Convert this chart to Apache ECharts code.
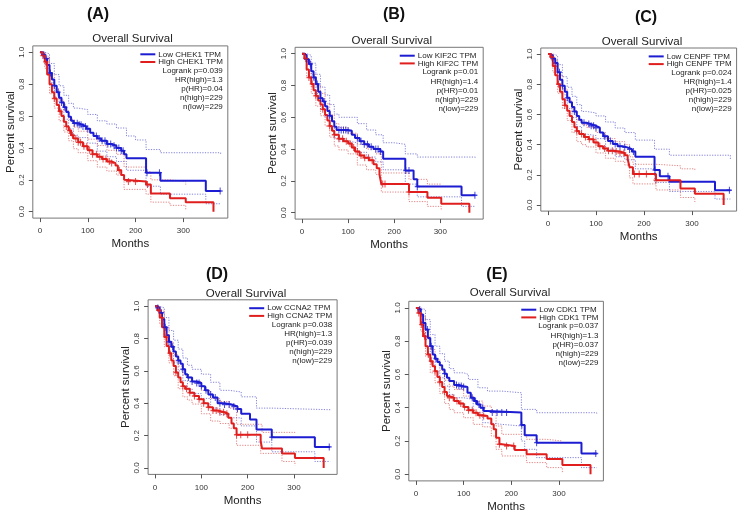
<!DOCTYPE html>
<html>
<head>
<meta charset="utf-8">
<script src="https://cdn.jsdelivr.net/npm/echarts@6/dist/echarts.min.js"></script>
<style>
  html, body { margin: 0; padding: 0; background: #fff; }
  #chart { width: 740px; height: 517px; }
</style>
</head>
<body>
<div id="chart"></div>
<script>
// values: [months, survival]
const genes = ["CHEK1", "KIF2C", "CENPF", "CCNA2", "CDK1"];
const panelTags = ["(A)", "(B)", "(C)", "(D)", "(E)"];
const logrankP = ["0.039", "0.01", "0.024", "0.038", "0.037"];
const hrHigh = ["1.3", "1.4", "1.4", "1.3", "1.3"];
const pHR = ["0.04", "0.01", "0.025", "0.039", "0.037"];
const nHigh = [229, 229, 229, 229, 229];
const nLow = [229, 229, 229, 229, 229];
const xTicks = [0, 100, 200, 300];
const yTicks = [0, 0.2, 0.4, 0.6, 0.8, 1.0];

// (A) CHEK1
const lowA = [[0,1],[5,0.985],[10,0.96],[15,0.92],[20,0.87],[25,0.83],[30,0.79],[35,0.75],[40,0.715],[45,0.685],[50,0.655],[55,0.625],[60,0.595],[65,0.57],[70,0.555],[80,0.545],[90,0.535],[97,0.52],[105,0.495],[112,0.475],[120,0.46],[128,0.445],[140,0.425],[150,0.414],[160,0.4],[170,0.383],[176,0.36],[181,0.335],[222,0.245],[252,0.195],[347,0.13],[378,0.13]];
const highA = [[0,1],[5,0.98],[10,0.94],[15,0.86],[20,0.8],[25,0.75],[30,0.71],[35,0.67],[40,0.63],[45,0.6],[50,0.565],[55,0.535],[60,0.51],[65,0.48],[70,0.46],[80,0.435],[90,0.41],[100,0.385],[110,0.36],[120,0.345],[130,0.33],[140,0.315],[150,0.305],[158,0.29],[163,0.26],[170,0.23],[176,0.2],[180,0.19],[222,0.17],[232,0.115],[272,0.085],[305,0.06],[363,0]];
const lowAUp = [[0,1],[10,0.99],[20,0.93],[30,0.86],[40,0.79],[50,0.73],[60,0.68],[70,0.65],[80,0.64],[100,0.61],[120,0.57],[140,0.55],[160,0.525],[181,0.475],[200,0.45],[222,0.39],[252,0.37],[378,0.36]];
const lowALo = [[0,1],[10,0.92],[20,0.81],[30,0.72],[40,0.64],[50,0.58],[60,0.52],[70,0.48],[80,0.465],[100,0.43],[120,0.38],[140,0.345],[160,0.315],[181,0.26],[222,0.16],[252,0.11],[347,0.05],[378,0.05]];
const highAUp = [[0,1],[10,0.97],[20,0.86],[30,0.77],[40,0.7],[50,0.635],[60,0.58],[70,0.53],[80,0.505],[100,0.455],[120,0.415],[140,0.385],[160,0.36],[176,0.28],[222,0.25],[232,0.2],[272,0.19],[305,0.17]];
const highALo = [[0,1],[10,0.9],[20,0.74],[30,0.65],[40,0.57],[50,0.5],[60,0.445],[70,0.395],[80,0.37],[100,0.32],[120,0.28],[140,0.255],[160,0.23],[176,0.14],[222,0.11],[232,0.06],[272,0.04],[305,0.015]];
const censLowA = [8, 14, 22, 30, 38, 45, 52, 72, 78, 82, 86, 90, 95, 100, 118, 124, 130, 136, 142, 148, 155, 160, 165, 170, 174, 224, 250, 377];
const censHighA = [6, 12, 30, 42, 55, 62, 68, 75, 80, 85, 92, 98, 104, 110, 118, 125, 132, 138, 145, 150, 166, 185, 200, 225];

// (B) KIF2C
const lowB = [[0,1],[5,0.99],[10,0.965],[15,0.935],[20,0.89],[25,0.85],[30,0.81],[35,0.76],[40,0.72],[45,0.7],[50,0.67],[55,0.64],[60,0.61],[65,0.575],[70,0.54],[75,0.52],[100,0.515],[108,0.49],[115,0.47],[125,0.45],[135,0.43],[145,0.415],[155,0.4],[170,0.385],[176,0.34],[224,0.265],[242,0.21],[250,0.165],[346,0.11],[376,0.11]];
const highB = [[0,1],[5,0.97],[10,0.9],[15,0.85],[20,0.81],[25,0.77],[30,0.735],[35,0.705],[40,0.68],[45,0.65],[50,0.615],[55,0.58],[60,0.545],[65,0.515],[70,0.49],[80,0.465],[90,0.45],[100,0.435],[108,0.41],[115,0.385],[125,0.36],[135,0.345],[145,0.33],[155,0.305],[162,0.28],[168,0.24],[172,0.18],[232,0.13],[272,0.094],[302,0.057],[363,0]];
const lowBUp = [[0,1],[10,0.99],[20,0.94],[30,0.87],[40,0.79],[50,0.74],[60,0.68],[70,0.62],[80,0.6],[100,0.6],[120,0.56],[140,0.52],[160,0.49],[176,0.44],[200,0.43],[224,0.37],[250,0.35],[376,0.34]];
const lowBLo = [[0,1],[10,0.93],[20,0.84],[30,0.75],[40,0.65],[50,0.6],[60,0.54],[70,0.47],[80,0.45],[100,0.44],[120,0.38],[140,0.35],[160,0.32],[176,0.27],[224,0.18],[250,0.1],[346,0.04],[376,0.04]];
const highBUp = [[0,1],[10,0.95],[20,0.87],[30,0.8],[40,0.75],[50,0.685],[60,0.615],[70,0.56],[80,0.535],[100,0.5],[120,0.43],[140,0.4],[160,0.37],[172,0.25],[232,0.21],[272,0.18],[302,0.18]];
const highBLo = [[0,1],[10,0.86],[20,0.75],[30,0.67],[40,0.61],[50,0.545],[60,0.475],[70,0.42],[80,0.395],[100,0.37],[120,0.3],[140,0.27],[160,0.24],[172,0.13],[232,0.07],[272,0.04],[302,0.02]];
const censLowB = [10, 18, 26, 33, 40, 48, 60, 80, 85, 90, 95, 100, 120, 128, 135, 142, 150, 160, 165, 170, 225, 232, 250, 375];
const censHighB = [8, 15, 22, 30, 45, 60, 70, 80, 88, 96, 104, 112, 120, 128, 136, 144, 152, 175, 180, 232];

// (C) CENPF
const lowC = [[0,1],[5,0.99],[10,0.97],[15,0.94],[20,0.88],[25,0.83],[30,0.79],[35,0.75],[40,0.71],[45,0.68],[50,0.65],[55,0.62],[60,0.59],[65,0.565],[70,0.545],[80,0.536],[90,0.525],[100,0.512],[108,0.48],[115,0.455],[125,0.425],[135,0.405],[145,0.39],[155,0.382],[165,0.37],[175,0.355],[182,0.32],[222,0.232],[233,0.19],[253,0.155],[348,0.098],[380,0.098]];
const highC = [[0,1],[5,0.98],[10,0.92],[15,0.86],[20,0.8],[25,0.75],[30,0.7],[35,0.66],[40,0.625],[45,0.59],[50,0.55],[55,0.515],[60,0.49],[65,0.47],[75,0.45],[85,0.435],[95,0.415],[105,0.39],[115,0.375],[125,0.36],[135,0.355],[150,0.345],[160,0.33],[166,0.305],[170,0.25],[177,0.205],[225,0.165],[276,0.11],[306,0.075],[366,0]];
const lowCUp = [[0,1],[10,0.99],[20,0.93],[30,0.85],[40,0.78],[50,0.72],[60,0.665],[70,0.62],[80,0.61],[100,0.59],[120,0.55],[140,0.51],[160,0.48],[182,0.43],[222,0.37],[253,0.33],[380,0.3]];
const lowCLo = [[0,1],[10,0.94],[20,0.83],[30,0.73],[40,0.64],[50,0.58],[60,0.52],[70,0.47],[80,0.46],[100,0.44],[120,0.37],[140,0.32],[160,0.3],[182,0.24],[222,0.15],[253,0.09],[348,0.04],[380,0.04]];
const highCUp = [[0,1],[10,0.96],[20,0.86],[30,0.77],[40,0.69],[50,0.62],[60,0.56],[70,0.535],[80,0.515],[100,0.48],[120,0.44],[140,0.42],[160,0.4],[170,0.32],[177,0.27],[225,0.26],[276,0.24],[306,0.23]];
const highCLo = [[0,1],[10,0.88],[20,0.74],[30,0.64],[40,0.56],[50,0.48],[60,0.42],[70,0.4],[80,0.385],[100,0.345],[120,0.31],[140,0.29],[160,0.265],[170,0.18],[177,0.14],[225,0.1],[276,0.05],[306,0.02]];
const censLowC = [10, 16, 24, 30, 40, 55, 75, 85, 90, 95, 100, 118, 130, 140, 150, 160, 170, 178, 223, 250, 378];
const censHighC = [8, 14, 22, 35, 60, 70, 78, 86, 94, 100, 108, 118, 126, 134, 142, 150, 158, 180, 190, 205, 225];

// (D) CCNA2
const lowD = [[0,1],[5,0.99],[10,0.96],[15,0.92],[20,0.87],[25,0.82],[30,0.78],[35,0.75],[40,0.72],[45,0.69],[50,0.665],[55,0.645],[60,0.61],[65,0.58],[70,0.56],[80,0.535],[90,0.525],[100,0.505],[108,0.48],[115,0.455],[125,0.435],[135,0.4],[150,0.392],[165,0.38],[178,0.365],[186,0.335],[205,0.3],[219,0.237],[252,0.19],[345,0.13],[378,0.13]];
const highD = [[0,1],[5,0.975],[10,0.93],[15,0.87],[20,0.81],[25,0.755],[30,0.71],[35,0.665],[40,0.63],[45,0.59],[50,0.56],[55,0.53],[60,0.505],[65,0.49],[75,0.465],[85,0.445],[95,0.425],[105,0.4],[115,0.375],[125,0.355],[135,0.345],[150,0.335],[158,0.31],[165,0.275],[170,0.245],[176,0.205],[228,0.165],[231,0.12],[274,0.089],[302,0.062],[364,0]];
const lowDUp = [[0,1],[10,0.99],[20,0.93],[30,0.85],[40,0.79],[50,0.735],[60,0.68],[70,0.635],[80,0.61],[100,0.58],[120,0.53],[140,0.48],[160,0.47],[186,0.44],[219,0.37],[252,0.36],[378,0.355]];
const lowDLo = [[0,1],[10,0.93],[20,0.82],[30,0.72],[40,0.65],[50,0.6],[60,0.54],[70,0.49],[80,0.46],[100,0.43],[120,0.37],[140,0.33],[160,0.31],[186,0.26],[219,0.16],[252,0.1],[345,0.04],[378,0.04]];
const highDUp = [[0,1],[10,0.97],[20,0.87],[30,0.78],[40,0.7],[50,0.63],[60,0.575],[70,0.56],[80,0.535],[100,0.48],[120,0.43],[140,0.41],[160,0.37],[176,0.27],[231,0.22],[274,0.22],[302,0.21]];
const highDLo = [[0,1],[10,0.89],[20,0.75],[30,0.65],[40,0.57],[50,0.49],[60,0.44],[70,0.42],[80,0.395],[100,0.335],[120,0.29],[140,0.275],[160,0.245],[176,0.14],[228,0.09],[274,0.04],[302,0.015]];
const censLowD = [6, 14, 22, 30, 38, 50, 60, 72, 80, 90, 95, 100, 110, 120, 130, 140, 150, 160, 170, 178, 252, 376];
const censHighD = [8, 14, 24, 32, 45, 60, 68, 75, 85, 95, 105, 115, 125, 132, 140, 148, 155, 176, 185, 200];

// (E) CDK1
const lowE = [[0,1],[5,0.99],[10,0.96],[15,0.91],[20,0.87],[25,0.82],[30,0.77],[35,0.72],[40,0.695],[45,0.675],[50,0.655],[55,0.63],[60,0.605],[65,0.58],[70,0.56],[80,0.537],[90,0.53],[100,0.525],[108,0.49],[115,0.46],[122,0.44],[128,0.42],[135,0.4],[142,0.38],[150,0.372],[221,0.296],[228,0.235],[253,0.19],[347,0.125],[379,0.125]];
const highE = [[0,1],[5,0.97],[10,0.9],[15,0.83],[20,0.77],[25,0.72],[30,0.68],[35,0.65],[40,0.62],[45,0.585],[50,0.555],[55,0.525],[60,0.495],[65,0.47],[70,0.46],[80,0.44],[90,0.425],[100,0.405],[110,0.385],[120,0.37],[130,0.355],[140,0.35],[150,0.335],[158,0.3],[163,0.27],[168,0.22],[175,0.18],[180,0.17],[207,0.146],[232,0.12],[274,0.092],[307,0.056],[366,0]];
const lowEUp = [[0,1],[10,0.99],[20,0.93],[30,0.84],[40,0.77],[50,0.725],[60,0.68],[70,0.635],[80,0.61],[100,0.6],[110,0.57],[130,0.52],[150,0.5],[180,0.49],[221,0.39],[253,0.37],[379,0.36]];
const lowELo = [[0,1],[10,0.93],[20,0.81],[30,0.7],[40,0.62],[50,0.58],[60,0.53],[70,0.48],[80,0.46],[100,0.45],[120,0.37],[140,0.31],[150,0.3],[180,0.29],[221,0.2],[228,0.15],[253,0.1],[347,0.04],[379,0.04]];
const highEUp = [[0,1],[10,0.95],[20,0.83],[30,0.75],[40,0.69],[50,0.625],[60,0.565],[70,0.53],[80,0.51],[100,0.47],[120,0.44],[140,0.41],[158,0.37],[168,0.29],[180,0.24],[232,0.21],[274,0.2],[307,0.2]];
const highELo = [[0,1],[10,0.86],[20,0.71],[30,0.61],[40,0.55],[50,0.485],[60,0.425],[70,0.39],[80,0.37],[100,0.34],[120,0.3],[140,0.285],[158,0.23],[168,0.15],[180,0.11],[232,0.07],[274,0.04],[307,0.01]];
const censLowE = [8, 16, 24, 32, 42, 60, 85, 90, 95, 100, 118, 125, 132, 140, 160, 170, 180, 190, 222, 253, 377];
const censHighE = [6, 12, 18, 26, 32, 40, 50, 60, 70, 78, 86, 94, 102, 110, 118, 126, 134, 142, 175, 190, 205];

const panels = [
  { low: lowA, high: highA, lowUp: lowAUp, lowLo: lowALo, highUp: highAUp, highLo: highALo, censLow: censLowA, censHigh: censHighA },
  { low: lowB, high: highB, lowUp: lowBUp, lowLo: lowBLo, highUp: highBUp, highLo: highBLo, censLow: censLowB, censHigh: censHighB },
  { low: lowC, high: highC, lowUp: lowCUp, lowLo: lowCLo, highUp: highCUp, highLo: highCLo, censLow: censLowC, censHigh: censHighC },
  { low: lowD, high: highD, lowUp: lowDUp, lowLo: lowDLo, highUp: highDUp, highLo: highDLo, censLow: censLowD, censHigh: censHighD },
  { low: lowE, high: highE, lowUp: lowEUp, lowLo: lowELo, highUp: highEUp, highLo: highELo, censLow: censLowE, censHigh: censHighE }
];

// layout (pixels)
const boxes = [
  { left: 32.8, top: 45.9, width: 195.0, height: 172.2 },
  { left: 295.1, top: 47.3, width: 188.1, height: 171.8 },
  { left: 540.8, top: 48.0, width: 195.8, height: 163.1 },
  { left: 148.1, top: 299.8, width: 189.0, height: 174.6 },
  { left: 408.8, top: 301.3, width: 194.6, height: 179.6 }
];
const tagPos = [[98, 15], [394, 15], [646, 18], [217, 275], [497, 275]];
const titlePos = [[132.5, 39.3], [391.7, 41], [642, 42], [246, 294], [510, 293]];

const BLUE = "#1c1cd2";
const RED = "#e01e1e";
const BLUE_CI = "rgba(70,70,200,0.75)";
const RED_CI = "rgba(215,70,70,0.75)";
const FONT = '"Liberation Sans", Arial, sans-serif';
const PLUS = "path://M4,0H6V4H10V6H6V10H4V6H0V4H4Z";

function survAt(curve, t) {
  let s = 1;
  for (const [tt, v] of curve) {
    if (tt <= t) s = v;
    else break;
  }
  return s;
}

const ctx = document.createElement("canvas").getContext("2d");
ctx.font = "8px " + FONT;

const grids = [], xAxes = [], yAxes = [], series = [], graphics = [];

panels.forEach((p, i) => {
  const b = boxes[i];
  grids.push({
    left: b.left, top: b.top, width: b.width, height: b.height,
    show: true, borderColor: "#777", borderWidth: 1, backgroundColor: "transparent"
  });
  xAxes.push({
    type: "value", gridIndex: i, min: -15, max: 393,
    name: "Months", nameLocation: "middle", nameGap: 20,
    nameTextStyle: { fontSize: 11.5, color: "#222", fontFamily: FONT },
    axisLine: { show: false, onZero: false },
    splitLine: { show: false },
    axisTick: { show: true, length: 4, customValues: xTicks, lineStyle: { color: "#555" } },
    axisLabel: { customValues: xTicks, margin: 9, fontSize: 8, color: "#333", fontFamily: FONT }
  });
  yAxes.push({
    type: "value", gridIndex: i, min: -0.04, max: 1.04,
    name: "Percent survival", nameLocation: "middle", nameGap: 16,
    nameTextStyle: { fontSize: 11.5, color: "#222", fontFamily: FONT },
    axisLine: { show: false, onZero: false },
    splitLine: { show: false },
    axisTick: { show: true, length: 4, customValues: yTicks, lineStyle: { color: "#555" } },
    axisLabel: {
      customValues: yTicks, rotate: 90, margin: 7, fontSize: 8, color: "#333", fontFamily: FONT,
      formatter: (v) => v.toFixed(1)
    }
  });

  // dotted confidence bands
  const ci = (data, color) => ({
    type: "line", xAxisIndex: i, yAxisIndex: i, data: data, step: "end",
    symbol: "none", silent: true, z: 2,
    lineStyle: { color: color, width: 0.9, type: [1.2, 1.4] }
  });
  series.push(ci(p.lowUp, BLUE_CI), ci(p.lowLo, BLUE_CI), ci(p.highUp, RED_CI), ci(p.highLo, RED_CI));

  const main = (data, color) => ({
    type: "line", xAxisIndex: i, yAxisIndex: i, data: data, step: "end",
    symbol: "none", silent: true, z: 3,
    lineStyle: { color: color, width: 2 }
  });
  series.push(main(p.low, BLUE), main(p.high, RED));

  // censor marks sit on the step curve
  const cens = (times, curve, color) => ({
    type: "scatter", xAxisIndex: i, yAxisIndex: i, silent: true, z: 4,
    data: times.map((t) => [t, survAt(curve, t)]),
    symbol: PLUS, symbolSize: [5, 7], itemStyle: { color: color }
  });
  series.push(cens(p.censLow, p.low, BLUE), cens(p.censHigh, p.high, RED));

  graphics.push({
    type: "text", x: tagPos[i][0], y: tagPos[i][1], silent: true,
    style: { text: panelTags[i], font: "bold 16px " + FONT, fill: "#111", align: "center", verticalAlign: "middle" }
  });
  graphics.push({
    type: "text", x: titlePos[i][0], y: titlePos[i][1], silent: true,
    style: { text: "Overall Survival", font: "11.5px " + FONT, fill: "#222", align: "center", verticalAlign: "middle" }
  });

  // legend + stats inside the box
  const right = b.left + b.width - 5;
  const top = b.top;
  const lowLbl = "Low " + genes[i] + " TPM";
  const highLbl = "High " + genes[i] + " TPM";
  const w = Math.max(ctx.measureText(lowLbl).width, ctx.measureText(highLbl).width);
  const xs = right - w;
  [[lowLbl, BLUE, 8.4], [highLbl, RED, 16.1]].forEach(([lbl, col, dy]) => {
    graphics.push({
      type: "line", silent: true,
      shape: { x1: xs - 18, y1: top + dy, x2: xs - 3, y2: top + dy },
      style: { stroke: col, lineWidth: 2 }
    });
    graphics.push({
      type: "text", x: xs, y: top + dy, silent: true,
      style: { text: lbl, font: "8px " + FONT, fill: "#222", align: "left", verticalAlign: "middle" }
    });
  });
  const stats = [
    "Logrank p=" + logrankP[i],
    "HR(high)=" + hrHigh[i],
    "p(HR)=" + pHR[i],
    "n(high)=" + nHigh[i],
    "n(low)=" + nLow[i]
  ];
  const statDy = [24.8, 34.1, 43.1, 52.1, 61.1];
  stats.forEach((s, k) => {
    graphics.push({
      type: "text", x: right, y: top + statDy[k], silent: true,
      style: { text: s, font: "8px " + FONT, fill: "#222", align: "right", verticalAlign: "middle" }
    });
  });
});

const chart = echarts.init(document.getElementById("chart"));
chart.setOption({
  animation: false,
  backgroundColor: "#fff",
  grid: grids,
  xAxis: xAxes,
  yAxis: yAxes,
  series: series,
  graphic: graphics
});
</script>
</body>
</html>
